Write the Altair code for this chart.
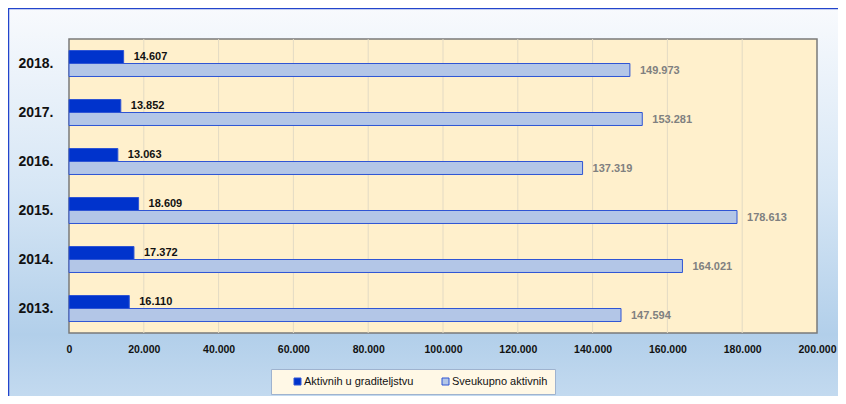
import altair as alt
import pandas as pd

years = ["2018.", "2017.", "2016.", "2015.", "2014.", "2013."]
aktivnih_gradit = [14607, 13852, 13063, 18609, 17372, 16110]
sveukupno = [149973, 153281, 137319, 178613, 164021, 147594]
series_names = ["Aktivnih u graditeljstvu", "Sveukupno aktivnih"]
x_ticks = [0, 20000, 40000, 60000, 80000, 100000, 120000, 140000, 160000, 180000, 200000]

DARK = "#0033cc"
LIGHT = "#b3c6e7"
EDGE = "#2f55d4"
FONT = "Liberation Sans"


def fmt(v):
    return f"{v:,}".replace(",", ".")


rows = []
for i, y in enumerate(years):
    rows.append({"year": y, "series": series_names[0], "value": aktivnih_gradit[i],
                 "label": fmt(aktivnih_gradit[i])})
    rows.append({"year": y, "series": series_names[1], "value": sveukupno[i],
                 "label": fmt(sveukupno[i])})
df = pd.DataFrame(rows)
ticks_df = pd.DataFrame({"t": x_ticks})
one = pd.DataFrame({"a": [0]})

W, H = 748, 294
PL, PT, PR, PB = 61, 31, 21, 63

xscale = alt.Scale(domain=[0, 200000], nice=False, zero=True)
yscale = alt.Scale(domain=years, paddingInner=0.47, paddingOuter=0.235)
yoff = alt.YOffset("series:N", sort=series_names,
                   scale=alt.Scale(domain=series_names, paddingInner=0, paddingOuter=0))

# outer gradient background
bg = alt.Chart(one).mark_rect(
    color=alt.Gradient(
        gradient="linear",
        stops=[alt.GradientStop(color="#f8fafd", offset=0),
               alt.GradientStop(color="#d6e6f5", offset=0.45),
               alt.GradientStop(color="#b2cfea", offset=0.8),
               alt.GradientStop(color="#c8ddf1", offset=1)],
        x1=0, x2=0, y1=0, y2=1),
    stroke="#2244cc", strokeWidth=1.5,
).encode(x=alt.value(-PL + 0.5), x2=alt.value(W + PR + 20),
         y=alt.value(-PT + 0.5), y2=alt.value(H + PB + 20))

plotbg = alt.Chart(one).mark_rect(
    fill="#fff0cc", stroke="#7a7a7a", strokeWidth=1.5
).encode(x=alt.value(0), x2=alt.value(W), y=alt.value(0), y2=alt.value(H))

grid = alt.Chart(ticks_df).transform_filter(
    (alt.datum.t > 0) & (alt.datum.t < 200000)
).mark_rule(color="#e3dac4", strokeWidth=1).encode(
    x=alt.X("t:Q", scale=xscale),
    y=alt.value(0), y2=alt.value(H))

base = alt.Chart(df)

bars = base.mark_bar(stroke=EDGE, strokeWidth=1, cornerRadius=0).encode(
    x=alt.X("value:Q", scale=xscale,
            axis=alt.Axis(values=x_ticks, grid=False, domain=False, ticks=False,
                          labelExpr="replace(format(datum.value, ',d'), ',', '.')",
                          labelFont=FONT, labelFontSize=10.5, labelFontWeight="bold",
                          labelColor="#111111", labelPadding=11, title=None,
                          zindex=1, labelFlush=False)),
    y=alt.Y("year:N", scale=yscale, sort=years,
            axis=alt.Axis(domain=False, ticks=False, labelFont=FONT,
                          labelFontSize=14, labelFontWeight="bold",
                          labelColor="#111111", labelPadding=16, title=None,
                          zindex=1)),
    yOffset=yoff,
    color=alt.Color("series:N", sort=series_names,
                    scale=alt.Scale(domain=series_names, range=[DARK, LIGHT]),
                    legend=alt.Legend(orient="none", legendX=202, legendY=330,
                                      direction="horizontal", title=None,
                                      fillColor="#fff8e6", strokeColor="#9fb3cf",
                                      padding=7, symbolType="square", symbolSize=49,
                                      symbolStrokeColor=EDGE, symbolStrokeWidth=1,
                                      labelFont=FONT, labelFontSize=11,
                                      labelColor="#111111",
                                      columnPadding=12, symbolOffset=14, labelOffset=1,
                                      zindex=1)),
)

txt_dark = base.transform_filter(alt.datum.series == series_names[0]).mark_text(
    align="left", baseline="middle", dx=10, font=FONT, fontSize=11,
    fontWeight="bold", color="#111111"
).encode(
    x=alt.X("value:Q", scale=xscale),
    y=alt.Y("year:N", scale=yscale, sort=years),
    yOffset=yoff,
    text="label:N",
)

txt_light = base.transform_filter(alt.datum.series == series_names[1]).mark_text(
    align="left", baseline="middle", dx=10, dy=1.5, font=FONT, fontSize=11,
    fontWeight="bold", color="#808080"
).encode(
    x=alt.X("value:Q", scale=xscale),
    y=alt.Y("year:N", scale=yscale, sort=years),
    yOffset=yoff,
    text="label:N",
)

chart = alt.layer(bg, plotbg, grid, bars, txt_dark, txt_light).properties(
    width=W, height=H,
    autosize=alt.AutoSizeParams(type="none"),
    padding={"left": PL, "top": PT, "right": PR, "bottom": PB},
).configure_view(stroke=None).configure(background="#ffffff")

chart.save("out.html", embed_options={"renderer": "svg", "actions": False})
